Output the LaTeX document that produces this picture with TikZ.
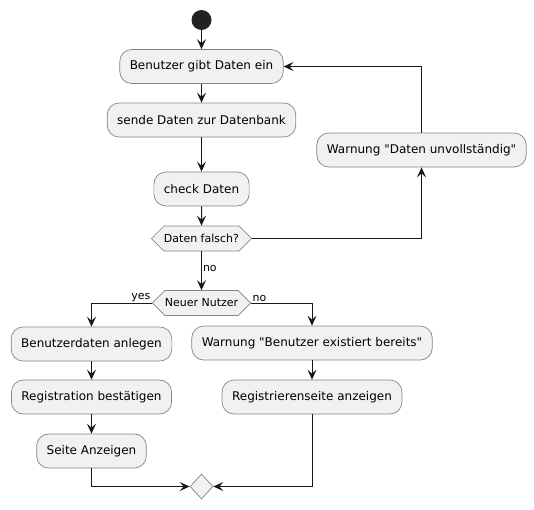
\documentclass[tikz,border=0pt]{standalone}
\usepackage{fontspec}
\setmainfont{DejaVu Sans}[Ligatures=TeXOff]
\usetikzlibrary{arrows.meta,shapes.symbols,shapes.geometric}
\definecolor{actfill}{HTML}{F1F1F1}
\definecolor{actline}{HTML}{181818}
\definecolor{actborder}{HTML}{848484}
\definecolor{startfill}{HTML}{222222}

\begin{document}
\begin{tikzpicture}[x=1pt,y=-1pt,
  action/.style={draw=actborder, fill=actfill, line width=0.7pt, rounded corners=12pt,
    minimum height=34pt, inner xsep=10pt, font=\fontsize{12}{14}\selectfont, text=black},
  decision/.style={signal, signal to=west and east, signal pointer angle=90,
    draw=actborder, fill=actfill, line width=0.7pt, minimum height=25pt,
    inner xsep=0pt, font=\fontsize{11}{13}\selectfont, text=black},
  merge/.style={diamond, draw=actborder, fill=actfill, line width=0.7pt,
    minimum width=23pt, minimum height=25pt, inner sep=0pt},
  startnode/.style={circle, fill=startfill, minimum size=20pt, inner sep=0pt},
  flow/.style={draw=actline, line width=1pt,
    -{Stealth[length=10pt,width=9pt,inset=4pt]}},
  lbl/.style={font=\fontsize{11}{13}\selectfont, text=black, inner sep=1pt}
]
\useasboundingbox (0,0) rectangle (534,509);

% main sequence
\node[startnode] (start) at (201.5,20) {};
\node[action] (input) at (201.5,66.5) {Benutzer gibt Daten ein};
\node[action] (send) at (201.5,120) {sende Daten zur Datenbank};
\node[action] (check) at (201.5,189) {check Daten};
\node[decision] (wrong) at (201.5,238.5) {Daten falsch?};
\node[action] (warn) at (421.5,150) {Warnung "Daten unvollständig"};
\node[decision] (newuser) at (201.5,303) {Neuer Nutzer};

% branch for a new user
\node[action] (create) at (91.5,344) {Benutzerdaten anlegen};
\node[action] (confirm) at (91.5,397) {Registration bestätigen};
\node[action] (page) at (91.5,451) {Seite Anzeigen};

% branch for an existing user
\node[action] (exists) at (312,343) {Warnung "Benutzer existiert bereits"};
\node[action] (regpage) at (312,397) {Registrierenseite anzeigen};

\node[merge] (join) at (201.5,486.5) {};

% connectors
\draw[flow] (start) -- (input);
\draw[flow] (input) -- (send);
\draw[flow] (send) -- (check);
\draw[flow] (check) -- (wrong);
\draw[flow] (wrong.east) -| (warn.south);
\draw[flow] (warn.north) |- (input.east);
\draw[flow] (wrong.south) -- node[lbl, right, pos=0.45] {no} (newuser.north);
\draw[flow] (newuser.west) -| node[lbl, anchor=south east, pos=0] {yes} (create.north);
\draw[flow] (newuser.east) -| node[lbl, anchor=south west, pos=0] {no} (exists.north);
\draw[flow] (create) -- (confirm);
\draw[flow] (confirm) -- (page);
\draw[flow] (exists) -- (regpage);
\draw[flow] (page.south) |- (join.west);
\draw[flow] (regpage.south) |- (join.east);
\end{tikzpicture}
\end{document}
